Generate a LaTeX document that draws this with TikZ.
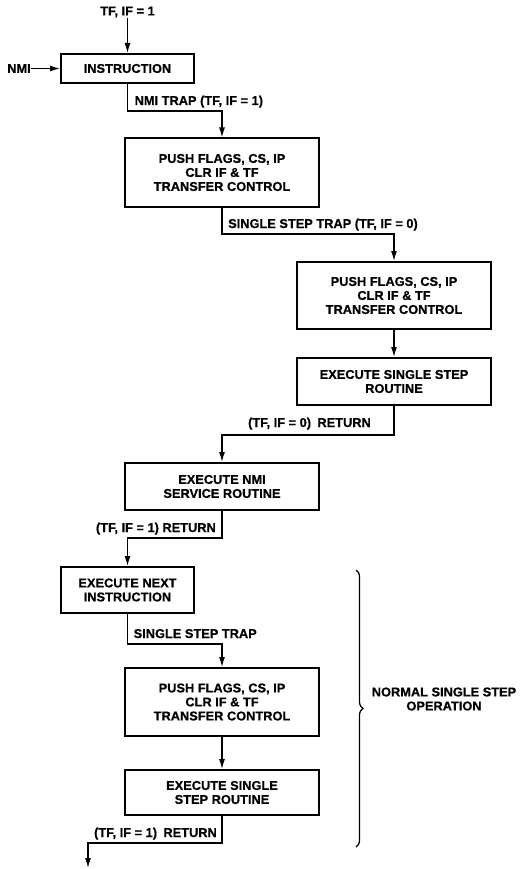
\documentclass[tikz,border=0pt]{standalone}
\usepackage{fontspec}
\usepackage{tikz}
\usetikzlibrary{arrows.meta, positioning, calc, decorations.pathreplacing}
\newfontfamily\chartfont[BoldFeatures={FakeBold=0.6}]{Liberation Sans}
\newcommand{\charttext}{\chartfont\bfseries\fontsize{12.8}{14}\selectfont}

\begin{document}
\begin{tikzpicture}[
  x=1pt, y=-1pt,
  box/.style     = {rectangle, draw, line width=2pt, minimum width=194pt,
                    minimum height=47pt, align=center, inner sep=0pt, font=\charttext},
  tallbox/.style = {box, minimum height=68pt},
  smallbox/.style = {box, minimum width=133pt},
  arrow/.style   = {line width=1.2pt, -{Latex[length=10pt,width=6pt]}},
  label/.style   = {inner sep=0pt, font=\charttext}
]
\useasboundingbox (0,0) rectangle (519,869);

\node[smallbox, minimum height=29pt] (ins)    at (127.5,68.5) {INSTRUCTION};
\node[tallbox]  (push1)  at (222,172.5) {PUSH FLAGS, CS, IP\\CLR IF \& TF\\TRANSFER CONTROL};
\node[tallbox, minimum height=67pt] (push2) at (394,295.5) {PUSH FLAGS, CS, IP\\CLR IF \& TF\\TRANSFER CONTROL};
\node[box]      (sstep1) at (394,381.5) {EXECUTE SINGLE STEP\\ROUTINE};
\node[box]      (nmisvc) at (222,486.5) {EXECUTE NMI\\SERVICE ROUTINE};
\node[smallbox, minimum height=46pt] (next) at (127.5,590) {EXECUTE NEXT\\INSTRUCTION};
\node[tallbox]  (push3)  at (222,702) {PUSH FLAGS, CS, IP\\CLR IF \& TF\\TRANSFER CONTROL};
\node[box, minimum height=45pt] (sstep2) at (222,792.5) {EXECUTE SINGLE\\STEP ROUTINE};

% entry points
\node[label] (tfif) at (127.5,12) {TF, IF = 1};
\node[label] (nmi)  at (19,68.5)  {NMI};
\draw[arrow] (tfif) -- (ins);
\draw[arrow] (nmi) -- (ins);

% turning points of the connectors
\coordinate (j1) at (127.5,111);
\coordinate (j2) at (222,234);
\coordinate (j3) at (394,435);
\coordinate (j4) at (222,538);
\coordinate (j5) at (127.5,644);
\coordinate (j6) at (222,843);
\coordinate (out) at (88,868);

\draw[arrow] (ins) -- (j1) -| (push1);
\draw[arrow] (push1) -- (j2) -| (push2);
\draw[arrow] (push2) -- (sstep1);
\draw[arrow] (sstep1) -- (j3) -| (nmisvc);
\draw[arrow] (nmisvc) -- (j4) -| (next);
\draw[arrow] (next) -- (j5) -| (push3);
\draw[arrow] (push3) -- (sstep2);
\draw[arrow] (sstep2) -- (j6) -| (out);

\node[label, anchor=base west] (l1) at ($(j1)+(7,-6)$)   {NMI TRAP (TF, IF = 1)};
\node[label, anchor=base west] (l2) at ($(j2)+(6,-6)$)   {SINGLE STEP TRAP (TF, IF = 0)};
\node[label, anchor=base east] (l3) at ($(j3)+(-23,-8)$) {(TF, IF = 0)\enspace RETURN};
\node[label, anchor=base east] (l4) at ($(j4)+(-6,-6)$)  {(TF, IF = 1) RETURN};
\node[label, anchor=base west] (l5) at ($(j5)+(6,-6)$)   {SINGLE STEP TRAP};
\node[label, anchor=base east] (l6) at ($(j6)+(-5,-6)$)  {(TF, IF = 1)\enspace RETURN};

% brace round the normal single step
\coordinate (brtop) at (356,570);
\coordinate (brbot) at (356,847);
\draw[line width=1.2pt, decorate, decoration={brace, amplitude=7pt}] (brtop) -- (brbot);
\node[label, align=center] (normal) at (444,699) {NORMAL SINGLE STEP\\OPERATION};

\end{tikzpicture}
\end{document}
